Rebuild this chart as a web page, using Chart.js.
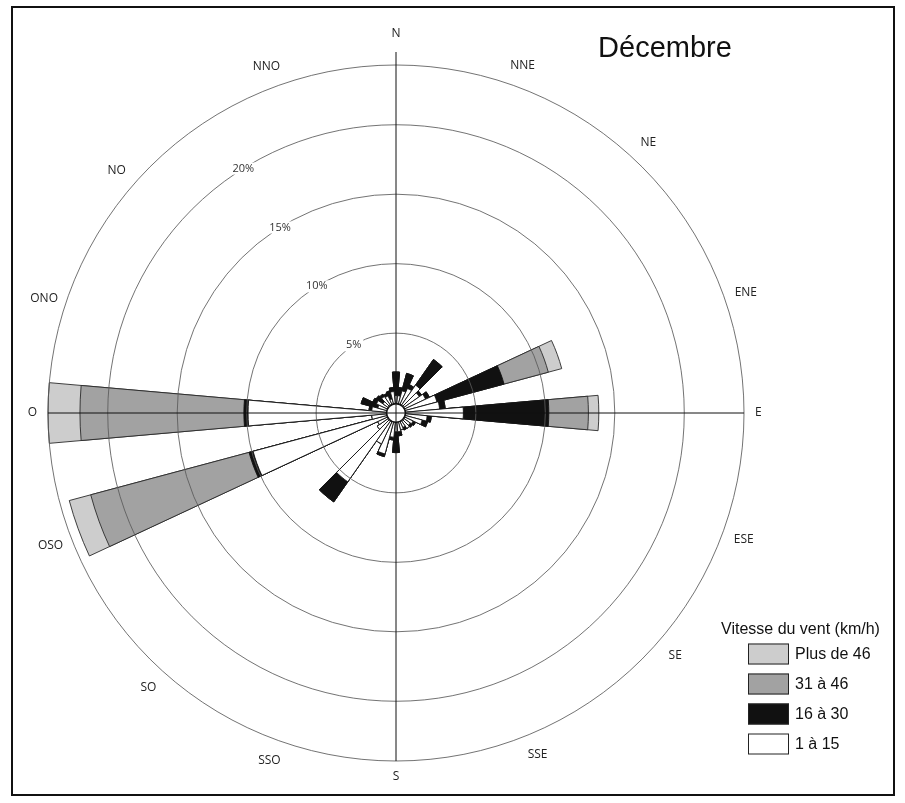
<!DOCTYPE html>
<html>
<head>
<meta charset="utf-8">
<script src="https://cdn.jsdelivr.net/npm/chart.js@4.4.1/dist/chart.umd.min.js"></script>
<style>
html,body{margin:0;padding:0;background:#fff;}
canvas{display:block;}
</style>
</head>
<body>
<canvas id="c" width="905" height="803"></canvas>
<script>
// ---- data ----
const directions = [0,10,20,30,40,50,60,70,80,90,100,110,120,130,140,150,160,170,180,190,200,210,220,230,240,250,260,270,280,290,300,310,320,330,340,350];
const speed1to15  = [0.5,0.5,0.9,1.2,1.7,1.3,1.6,2.3,2.4,4.1,1.5,1.2,0.6,0.5,0.6,0.4,0.5,0.6,0.6,1.0,2.3,1.7,5.3,0.9,0.7,9.9,1.0,9.9,1.0,0.6,0.8,0.4,0.7,0.6,0.3,0.8];
const speed16to30 = [1.7,0.6,1.3,0.3,2.25,0.2,0.3,5.0,0.4,6.15,0.3,0.4,0.2,0.2,0,0.2,0,0.3,1.5,0.2,0.2,0,1.76,0,0,0.3,0,0.3,0.2,1.25,0.3,0.6,0.2,0.2,0.6,0.3];
const speed31to46 = [0,0,0,0,0,0,0,3.3,0,2.85,0,0,0,0,0,0,0,0,0,0,0,0,0,0,0,11.8,0,11.8,0,0,0,0,0,0,0,0];
const speedOver46 = [0,0,0,0,0,0,0,1.0,0,0.75,0,0,0,0,0,0,0,0,0,0,0,0,0,0,0,1.6,0,2.3,0,0,0,0,0,0,0,0];
const classLabels = ['1 à 15','16 à 30','31 à 46','Plus de 46'];
const ringTicks = [5,10,15,20];
const ringTickLabels = ['5%','10%','15%','20%'];
const compassLabels = ['N','NNE','NE','ENE','E','ESE','SE','SSE','S','SSO','SO','OSO','O','ONO','NO','NNO'];
const chartTitle = 'Décembre';
const legendTitle = 'Vitesse du vent (km/h)';
const scaleMin = -0.75;
const scaleMax = 24.3;

// ---- styles ----
const classColors = ['#ffffff','#111111','#a2a2a2','#cdcdcd'];
const classBorders = ['#111111','#111111','#2a2a2a','#2a2a2a'];
// where the compass words sit around the rim (degrees, as printed)
const compassLabelAngles = [0,20,43,71,90,110,131,157.5,180,200,222,249,270,288,311,339.5];

// cumulative stacks (inner to outer)
const series = [speed1to15, speed16to30, speed31to46, speedOver46];
const cumulative = [];
series.forEach((arr, k) => {
  cumulative.push(arr.map((v, i) => +(v + (k ? cumulative[k-1][i] : 0)).toFixed(3)));
});

const datasets = classLabels.map((lab, k) => ({
  label: lab,
  data: cumulative[k],
  backgroundColor: classColors[k],
  borderColor: classBorders[k],
  borderWidth: 0.9
}));

const decor = {
  id: 'decor',
  afterDraw(chart) {
    const ctx = chart.ctx;
    const s = chart.scales.r;
    const cx = s.xCenter, cy = s.yCenter;
    const R = s.getDistanceFromCenterForValue(scaleMax);
    const r0 = s.getDistanceFromCenterForValue(0);
    ctx.save();
    // calm circle
    ctx.beginPath();
    ctx.arc(cx, cy, r0 - 1, 0, Math.PI * 2);
    ctx.fillStyle = '#fff';
    ctx.fill();
    ctx.lineWidth = 1.6;
    ctx.strokeStyle = '#111';
    ctx.stroke();
    // axes
    ctx.lineWidth = 1;
    ctx.beginPath();
    ctx.moveTo(cx, cy - R - 13);
    ctx.lineTo(cx, cy + R);
    ctx.moveTo(cx - R, cy);
    ctx.lineTo(cx + R, cy);
    ctx.stroke();
    // ring labels
    ctx.font = '11px "Open Sans"';
    ctx.textAlign = 'center';
    ctx.textBaseline = 'middle';
    const b = -32 * Math.PI / 180;
    ringTicks.forEach((t, i) => {
      const r = s.getDistanceFromCenterForValue(t);
      const x = cx + r * Math.sin(b), y = cy - r * Math.cos(b);
      const w = ctx.measureText(ringTickLabels[i]).width;
      ctx.fillStyle = '#fff';
      ctx.fillRect(x - w / 2 - 2, y - 6, w + 4, 12);
      ctx.fillStyle = '#333';
      ctx.fillText(ringTickLabels[i], x, y);
    });
    // compass labels
    ctx.font = '12px "Open Sans"';
    ctx.fillStyle = '#222';
    compassLabels.forEach((lab, i) => {
      const a = compassLabelAngles[i] * Math.PI / 180;
      const w = ctx.measureText(lab).width;
      let d;
      if (i % 4 === 0) {
        d = R + 11 + (w / 2) * Math.abs(Math.sin(a)) + 4.5 * Math.abs(Math.cos(a));
        if (i === 0) d += 16;
      } else {
        d = R + 22;
      }
      ctx.fillText(lab, cx + d * Math.sin(a), cy - d * Math.cos(a));
    });
    // title
    ctx.font = '29px "Liberation Sans"';
    ctx.fillStyle = '#111';
    ctx.textBaseline = 'alphabetic';
    ctx.fillText(chartTitle, 665, 57);
    // legend
    ctx.font = '16px "Liberation Sans"';
    ctx.textAlign = 'left';
    ctx.textBaseline = 'middle';
    ctx.fillText(legendTitle, 721, 630);
    const order = [3, 2, 1, 0];
    order.forEach((k, row) => {
      const yc = 654 + row * 30;
      ctx.fillStyle = classColors[k];
      ctx.fillRect(748, yc - 10.5, 41, 21);
      ctx.strokeStyle = '#222';
      ctx.lineWidth = 1;
      ctx.strokeRect(748.5, yc - 10, 40, 20);
      ctx.fillStyle = '#111';
      ctx.fillText(classLabels[k], 795, yc + 1);
    });
    // frame
    ctx.lineWidth = 2;
    ctx.strokeStyle = '#111';
    ctx.strokeRect(12, 7, 882, 788);
    ctx.restore();
  }
};

new Chart(document.getElementById('c'), {
  type: 'polarArea',
  data: { labels: directions.map(d => d + '°'), datasets },
  options: {
    responsive: false,
    animation: false,
    devicePixelRatio: 1,
    layout: { padding: { left: 48, right: 161, top: 65, bottom: 42 } },
    plugins: { legend: { display: false }, tooltip: { enabled: false } },
    scales: {
      r: {
        type: 'radialLinear',
        min: scaleMin,
        max: scaleMax,
        beginAtZero: false,
        startAngle: -5,
        ticks: { display: false },
        afterBuildTicks: (sc) => { sc.ticks = ringTicks.concat([scaleMax]).map(v => ({ value: v })); },
        grid: { circular: true, color: '#5a5a5a', lineWidth: 0.85, z: 1 },
        angleLines: { display: false },
        pointLabels: { display: false }
      }
    }
  },
  plugins: [decor]
});
</script>
</body>
</html>
